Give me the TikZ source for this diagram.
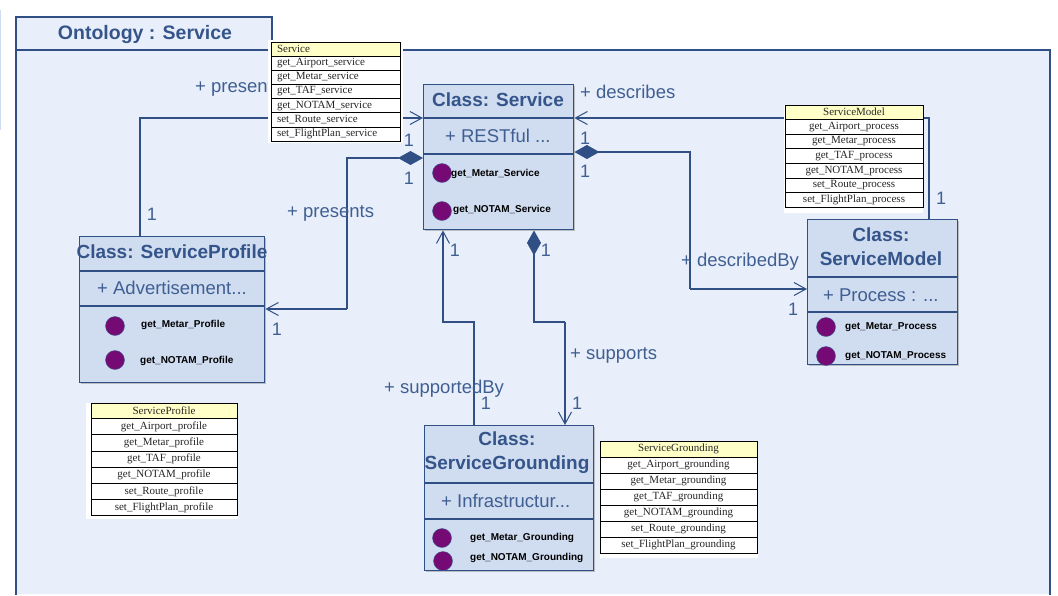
\documentclass[tikz,border=0pt]{standalone}
\usepackage{fontspec}
\setmainfont{Liberation Sans}
\newfontfamily\serifcell{Liberation Serif}
\usetikzlibrary{arrows.meta,shadows}
\definecolor{bgblue}{HTML}{E9EFFA}
\definecolor{boxblue}{HTML}{D0DCF0}
\definecolor{edge}{HTML}{2F4F85}
\definecolor{ink}{HTML}{3F5F92}
\definecolor{titleink}{HTML}{35558A}
\definecolor{methodpurple}{HTML}{760A74}
\definecolor{headyellow}{HTML}{FFFFC8}
\tikzset{
  x=1pt,y=-1pt,
  classbox/.style={draw=edge,line width=1.4pt,fill=boxblue,inner sep=0,anchor=north west,drop shadow={shadow xshift=1.5pt,shadow yshift=-1.5pt,fill=gray,opacity=.45}},
  divider/.style={draw=edge,line width=1.2pt},
  conn/.style={draw=edge,line width=1.2pt},
  openhead/.style={-{Straight Barb[length=12pt,width=13pt,line width=1pt]}},
  fulldiamond/.style={{Diamond[length=25pt,width=14pt,fill=edge]}-},
  title/.style={font=\bfseries\fontsize{19}{23}\selectfont,text=titleink,inner sep=0,align=center},
  lab/.style={font=\fontsize{18.5}{22}\selectfont,text=ink,inner sep=0,anchor=west},
  mult/.style={font=\fontsize{18}{22}\selectfont,text=ink,inner sep=0},
  method/.style={font=\bfseries\fontsize{10}{12}\selectfont,text=black,inner sep=0,anchor=west},
  dot/.style={circle,fill=methodpurple,draw=ink,line width=.4pt,minimum size=19pt,inner sep=0},
  cellrow/.style={draw=black,line width=.8pt,fill=white,inner sep=0,font=\serifcell\fontsize{11}{13}\selectfont,text=black!85},
  headrow/.style={cellrow,fill=headyellow},
  backing/.style={fill=white,draw=none,inner sep=0,anchor=north west},
}
\begin{document}
\begin{tikzpicture}
\useasboundingbox (0,0) rectangle (1058,595);
\fill[white] (0,0) rectangle (1058,595);
% package frame
\fill[bgblue] (16,17) -- (272,17) -- (272,50) -- (1050,50) -- (1050,594) -- (16,594) -- cycle;
\draw[edge,line width=1.2pt] (16,595) -- (16,17) -- (272,17) -- (272,50) (16,50) -- (1050,50) -- (1050,595);
\draw[boxblue,line width=1pt] (.5,10) -- (.5,130);
\node[title,font=\bfseries\fontsize{19.5}{23}\selectfont] (pkg) at (145,34) {Ontology : Service};

% classes
\node[classbox,minimum width=150pt,minimum height=145pt] (svc) at (423,84) {};
\node[classbox,minimum width=185pt,minimum height=146pt] (prof) at (79,236) {};
\node[classbox,minimum width=150pt,minimum height=145pt] (model) at (807,219) {};
\node[classbox,minimum width=169pt,minimum height=145pt] (ground) at (424,425) {};

% dividers
\draw[divider] (423,118) -- (573,118) (423,154) -- (573,154);
\draw[divider] (79,271) -- (264,271) (79,306) -- (264,306);
\draw[divider] (807,277) -- (957,277) (807,312) -- (957,312);
\draw[divider] (424,483) -- (593,483) (424,519) -- (593,519);

% connectors
\draw[conn,openhead] (140,0 |- prof.north) -- (140,118) -- (svc.west |- 0,118);
\draw[conn,fulldiamond] (svc.west |- 0,158) -- (347,158) -- (347,309);
\draw[conn,openhead] (347,309) -- (prof.east |- 0,309);
\draw[conn,openhead] (929,0 |- model.north) -- (929,118) -- (svc.east |- 0,118);
\draw[conn,fulldiamond] (svc.east |- 0,152) -- (690,152) -- (690,289);
\draw[conn,openhead] (690,289) -- (model.west |- 0,289);
\draw[conn,fulldiamond] (534,0 |- svc.south) -- (534,322) -- (565,322);
\draw[conn,openhead] (565,322) -- (565,0 |- ground.north);
\draw[conn,openhead] (474,0 |- ground.north) -- (474,322) -- (443,322) -- (443,0 |- svc.south);

% class text
\node[title] (svct) at (498,100) {Class: Service};
\node[lab] (svca) at (445,136) {+ RESTful ...};
\node[dot] (svcd1) at (442,173) {};
\node[dot] (svcd2) at (442,211) {};
\node[method] (svcm1) at (451,174) {get\_Metar\_Service};
\node[method] (svcm2) at (453,210) {get\_NOTAM\_Service};

\node[title] (proft) at (172,252) {Class: ServiceProfile};
\node[lab] (profa) at (97,288) {+ Advertisement...};
\node[dot] (profd1) at (115,326) {};
\node[dot] (profd2) at (115,360) {};
\node[method] (profm1) at (141,325) {get\_Metar\_Profile};
\node[method] (profm2) at (140,361) {get\_NOTAM\_Profile};

\node[title] (modelt) at (881,247) {Class:\\[1pt]ServiceModel};
\node[lab] (modela) at (823,295) {+ Process : ...};
\node[dot] (modeld1) at (826,327) {};
\node[dot] (modeld2) at (826,356) {};
\node[method] (modelm1) at (845,327) {get\_Metar\_Process};
\node[method] (modelm2) at (845,356) {get\_NOTAM\_Process};

\node[title] (groundt) at (507,453) {Class:\\[1pt]ServiceGrounding};
\node[lab] (grounda) at (441,501) {+ Infrastructur...};
\node[dot] (groundd1) at (442,538) {};
\node[dot] (groundd2) at (443,561) {};
\node[method] (groundm1) at (470,538) {get\_Metar\_Grounding};
\node[method] (groundm2) at (470,558) {get\_NOTAM\_Grounding};

% association labels
\node[lab] (l1) at (195,88) {+ presents};
\node[lab] (l2) at (287,213) {+ presents};
\node[lab] (l3) at (580,92) {+ describes};
\node[lab] (l4) at (681,262) {+ describedBy};
\node[lab] (l5) at (570,355) {+ supports};
\node[lab] (l6) at (384,389) {+ supportedBy};
\node[mult] (m1) at (152,214) {1};
\node[mult] (m2) at (409,140) {1};
\node[mult] (m3) at (409,178) {1};
\node[mult] (m4) at (277,329) {1};
\node[mult] (m5) at (585,138) {1};
\node[mult] (m6) at (585,171) {1};
\node[mult] (m7) at (546,250) {1};
\node[mult] (m8) at (455,250) {1};
\node[mult] (m9) at (793,309) {1};
\node[mult] (m10) at (941,198) {1};
\node[mult] (m11) at (577,403) {1};
\node[mult] (m12) at (486,403) {1};

% table: Service
\node[backing,minimum width=135pt,minimum height=103pt] (tsbg) at (268,40) {};
\node[headrow,minimum width=129pt,minimum height=14pt,text width=117pt,align=left] (ts0) at (335.5,49) {Service};
\foreach \i/\t in {1/get\_Airport\_service,2/get\_Metar\_service,3/get\_TAF\_service,4/get\_NOTAM\_service,5/set\_Route\_service,6/set\_FlightPlan\_service}
  \node[cellrow,minimum width=129pt,minimum height=14.2pt,text width=117pt,align=left] (ts\i) at (335.5,{49+14.17*\i}) {\t};

% table: ServiceModel
\node[backing,minimum width=139pt,minimum height=108pt] (tmbg) at (784,105) {};
\node[headrow,minimum width=138pt,minimum height=14pt] (tm0) at (854,112) {ServiceModel};
\foreach \i/\t in {1/get\_Airport\_process,2/get\_Metar\_process,3/get\_TAF\_process,4/get\_NOTAM\_process,5/set\_Route\_process,6/set\_FlightPlan\_process}
  \node[cellrow,minimum width=138pt,minimum height=14.7pt] (tm\i) at (854,{112+14.7*\i}) {\t};

% table: ServiceProfile
\node[backing,minimum width=152pt,minimum height=116pt] (tpbg) at (86,403) {};
\node[headrow,minimum width=146pt,minimum height=15pt] (tp0) at (164,410.5) {ServiceProfile};
\foreach \i/\t in {1/get\_Airport\_profile,2/get\_Metar\_profile,3/get\_TAF\_profile,4/get\_NOTAM\_profile,5/set\_Route\_profile,6/set\_FlightPlan\_profile}
  \node[cellrow,minimum width=146pt,minimum height=16.2pt] (tp\i) at (164,{410.5+16.2*\i}) {\t};

% table: ServiceGrounding
\node[backing,minimum width=158pt,minimum height=117pt] (tgbg) at (600,441) {};
\node[headrow,minimum width=157pt,minimum height=16pt] (tg0) at (678.5,449) {ServiceGrounding};
\foreach \i/\t in {1/get\_Airport\_grounding,2/get\_Metar\_grounding,3/get\_TAF\_grounding,4/get\_NOTAM\_grounding,5/set\_Route\_grounding,6/set\_FlightPlan\_grounding}
  \node[cellrow,minimum width=157pt,minimum height=16pt] (tg\i) at (678.5,{449+16*\i}) {\t};
\end{tikzpicture}
\end{document}
